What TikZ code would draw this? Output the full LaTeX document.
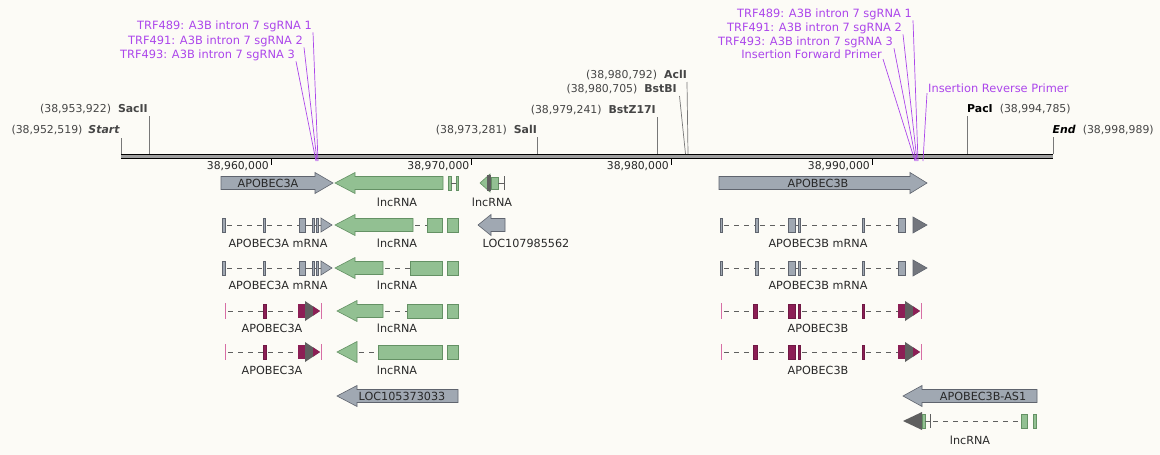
\documentclass[tikz,border=0pt]{standalone}
\usepackage{fontspec}
\setmainfont{DejaVu Sans}
\definecolor{bg}{RGB}{252,251,246}
\definecolor{txt}{RGB}{40,40,40}
\definecolor{numc}{RGB}{70,70,70}
\definecolor{purp}{RGB}{172,70,235}
\definecolor{gfill}{RGB}{160,168,178}
\definecolor{gdraw}{RGB}{95,100,110}
\definecolor{grfill}{RGB}{146,192,146}
\definecolor{grdraw}{RGB}{100,145,100}
\definecolor{mar}{RGB}{140,30,85}
\definecolor{pinkc}{RGB}{215,110,165}
\definecolor{dhead}{RGB}{95,95,95}
\definecolor{dtri}{RGB}{115,118,125}
\definecolor{intronc}{RGB}{95,95,95}
\definecolor{tickc}{RGB}{120,120,120}
\newcommand{\ArrR}[5]{\filldraw[#4] (#1,#3-6.5) -- (#5,#3-6.5) -- (#5,#3-10.5) -- (#2,#3) -- (#5,#3+10.5) -- (#5,#3+6.5) -- (#1,#3+6.5) -- cycle;}
\newcommand{\ArrL}[5]{\filldraw[#4] (#2,#3-6.5) -- (#5,#3-6.5) -- (#5,#3-10.5) -- (#1,#3) -- (#5,#3+10.5) -- (#5,#3+6.5) -- (#2,#3+6.5) -- cycle;}
\newcommand{\Exon}[4]{\filldraw[#4] (#1,#3-7) rectangle (#2,#3+7);}
\newcommand{\Intron}[3]{\draw[intron] (#1,#3) -- (#2,#3);}
\newcommand{\CdsEnd}[2]{%
  \fill[mar] (#1,#2-7) rectangle (#1+8,#2+7);
  \fill[dhead] (#1+7,#2-10) -- (#1+22,#2) -- (#1+7,#2+10) -- cycle;
  \fill[mar] (#1+15,#2-4.7) -- (#1+22,#2) -- (#1+15,#2+4.7) -- cycle;
  \draw[pinkc, line width=0.8pt] (#1+23,#2-8) -- (#1+23,#2+8);}
\newcommand{\AmRNA}[1]{%
  \Exon{222}{225}{#1}{gg}
  \Intron{225}{263}{#1}
  \Exon{263}{265}{#1}{gg}
  \Intron{265}{299}{#1}
  \draw[intronc, line width=0.8pt] (305,#1) -- (321,#1);
  \Exon{299}{305}{#1}{gg}
  \Exon{312}{314}{#1}{gg}
  \Exon{316.5}{318.5}{#1}{gg}
  \filldraw[gg] (321,#1-7) -- (332,#1) -- (321,#1+7) -- cycle;}
\newcommand{\ACds}[1]{%
  \draw[pinkc, line width=0.8pt] (225,#1-8) -- (225,#1+8);
  \Intron{226}{263}{#1}
  \Exon{263}{266}{#1}{mr}
  \Intron{266}{298}{#1}
  \CdsEnd{298}{#1}}
\newcommand{\BmRNA}[1]{%
  \Exon{720}{722}{#1}{gg}
  \Intron{722}{755}{#1}
  \Exon{755}{758}{#1}{gg}
  \Intron{758}{788}{#1}
  \draw[intronc, line width=0.8pt] (795,#1) -- (798,#1);
  \Exon{788}{795}{#1}{gg}
  \Exon{798}{800}{#1}{gg}
  \Intron{800}{862}{#1}
  \Exon{862}{864}{#1}{gg}
  \Intron{864}{898}{#1}
  \Exon{898}{905}{#1}{gg}
  \filldraw[fill=dtri, draw=gdraw, line width=0.6pt] (913,#1-8) -- (927,#1) -- (913,#1+8) -- cycle;}
\newcommand{\BCds}[1]{%
  \draw[pinkc, line width=0.8pt] (721,#1-8) -- (721,#1+8);
  \Intron{722}{753}{#1}
  \Exon{753}{757}{#1}{mr}
  \Intron{757}{788}{#1}
  \Exon{788}{795}{#1}{mr}
  \Exon{798}{800}{#1}{mr}
  \Intron{800}{862}{#1}
  \Exon{862}{864}{#1}{mr}
  \Intron{864}{898}{#1}
  \CdsEnd{898}{#1}}
\begin{document}
\begin{tikzpicture}[x=1pt,y=-1pt,
  lbl/.style={inner sep=0pt, text=txt, font=\fontsize{11.2}{13}\selectfont},
  rlbl/.style={inner sep=0pt, text=txt, font=\fontsize{10.8}{12}\selectfont},
  slbl/.style={inner sep=0pt, text=black, font=\fontsize{10.9}{12}\selectfont},
  plbl/.style={inner sep=0pt, text=purp, font=\fontsize{11.4}{13}\selectfont},
  pline/.style={draw=purp, line width=0.7pt},
  tickl/.style={draw=tickc, line width=0.7pt},
  rtick/.style={draw=black, line width=1pt},
  gg/.style={fill=gfill, draw=gdraw, line width=0.6pt},
  gr/.style={fill=grfill, draw=grdraw, line width=0.6pt},
  mr/.style={fill=mar, draw=mar!80!black, line width=0.4pt},
  intron/.style={draw=intronc, line width=0.9pt, dash pattern=on 5pt off 5pt, dash phase=-2pt},
]
\fill[bg] (0,0) rectangle (1160,455);
\useasboundingbox (0,0) rectangle (1160,455);

% ---------- main sequence line ----------
\fill[gray!75] (121,154.5) rectangle (1053,158.8);
\draw[line width=1.1pt] (121,154.5) -- (1053,154.5);
\draw[line width=1.1pt] (121,158.7) -- (1053,158.7);

% ---------- ruler ----------
\foreach \x/\t [count=\i] in {271/{38,960,000}, 471.5/{38,970,000}, 671/{38,980,000}, 872/{38,990,000}} {
  \draw[rtick] (\x,159) -- (\x,165);
  \node[rlbl, anchor=mid east] (ruler\i) at (\x-2,167) {\t};
}

% ---------- restriction sites ----------
\node[slbl, anchor=mid east] (start) at (120,131) {\color{numc}(38,952,519)\hspace{6pt}\textbf{\textit{Start}}};
\coordinate (startb) at (121,154);
\draw[tickl] (121,138) -- (startb);
\node[slbl, anchor=mid east] (sacii) at (148,110) {\color{numc}(38,953,922)\hspace{7pt}\textbf{SacII}};
\coordinate (saciib) at (149,154);
\draw[tickl] (149,116) -- (saciib);
\node[slbl, anchor=mid east] (sali) at (537,131) {\color{numc}(38,973,281)\hspace{7pt}\textbf{SalI}};
\coordinate (salib) at (537,154);
\draw[tickl] (537,137) -- (salib);
\node[slbl, anchor=mid east] (bstz) at (656,111) {\color{numc}(38,979,241)\hspace{7pt}\textbf{BstZ17I}};
\coordinate (bstzb) at (657,154);
\draw[tickl] (657,117) -- (bstzb);
\node[slbl, anchor=mid east] (bstbi) at (677,90) {\color{numc}(38,980,705)\hspace{7pt}\textbf{BstBI}};
\coordinate (bstbib) at (685.5,154);
\draw[tickl] (679.5,96) -- (bstbib);
\node[slbl, anchor=mid east] (acli) at (687,76) {\color{numc}(38,980,792)\hspace{7pt}\textbf{AclI}};
\coordinate (aclib) at (688,154);
\draw[tickl] (687,82) -- (aclib);
\node[slbl, anchor=mid west] (paci) at (967,110) {\textbf{PacI}\hspace{7pt}\color{numc}(38,994,785)};
\coordinate (pacib) at (967.5,154);
\draw[tickl] (967.5,116) -- (pacib);
\node[slbl, anchor=mid west] (endn) at (1052.5,131) {\textbf{\textit{End}}\hspace{7pt}\color{numc}(38,998,989)};
\coordinate (endb) at (1053,154);
\draw[tickl] (1053,137) -- (endb);

% ---------- purple annotations, left ----------
\node[plbl, anchor=mid east] (l1) at (312,27) {TRF489: A3B intron 7 sgRNA 1};
\node[plbl, anchor=mid east] (l2) at (303,42) {TRF491: A3B intron 7 sgRNA 2};
\node[plbl, anchor=mid east] (l3) at (295,56) {TRF493: A3B intron 7 sgRNA 3};
\coordinate (sl1) at (318,161);
\coordinate (sl2) at (317,161);
\coordinate (sl3) at (316,161);
\draw[pline] ([xshift=1pt]l1.south east) -- (sl1);
\draw[pline] ([xshift=1pt]l2.south east) -- (sl2);
\draw[pline] ([xshift=1pt]l3.south east) -- (sl3);

% ---------- purple annotations, right ----------
\node[plbl, anchor=mid east] (r1) at (912,15) {TRF489: A3B intron 7 sgRNA 1};
\node[plbl, anchor=mid east] (r2) at (902,29) {TRF491: A3B intron 7 sgRNA 2};
\node[plbl, anchor=mid east] (r3) at (893,43) {TRF493: A3B intron 7 sgRNA 3};
\node[plbl, anchor=mid east] (r4) at (882,56) {Insertion Forward Primer};
\node[plbl, anchor=mid west] (r5) at (928,90) {Insertion Reverse Primer};
\coordinate (sr1) at (918,161);
\coordinate (sr2) at (917,161);
\coordinate (sr3) at (916,161);
\coordinate (sr4) at (915,161);
\coordinate (sr5) at (923,161);
\draw[pline] ([xshift=1pt]r1.south east) -- (sr1);
\draw[pline] ([xshift=1pt]r2.south east) -- (sr2);
\draw[pline] ([xshift=1pt]r3.south east) -- (sr3);
\draw[pline] ([xshift=1pt]r4.south east) -- (sr4);
\draw[pline] ([xshift=-1pt]r5.south west) -- (sr5);

% ---------- left features ----------
% row 1
\ArrR{221}{333}{183}{gg}{315}
\node[lbl] (a3a) at (268,183.5) {APOBEC3A};
\ArrL{335}{443}{183}{gr}{355}
\filldraw[gr] (448,176) rectangle (451,190);
\draw[intronc, line width=0.8pt] (451,183) -- (456,183);
\filldraw[gr] (456,176) rectangle (458.5,190);
\node[lbl] (lnc1) at (397,202) {lncRNA};
\filldraw[gr] (480,183) -- (490,174) -- (490,192) -- cycle;
\fill[dhead] (487,175) rectangle (491,191);
\filldraw[gr] (491,177) rectangle (498,189);
\draw[intronc, line width=0.8pt] (498,183) -- (504,183);
\draw[intronc, line width=1pt] (504,176) -- (504,190);
\node[lbl] (lnc2) at (492,202) {lncRNA};
% row 2
\AmRNA{225}
\node[lbl] (a3am1) at (278,243) {APOBEC3A mRNA};
\ArrL{335}{413}{225}{gr}{355}
\Intron{413}{427}{225}
\Exon{427}{442}{225}{gr}
\Exon{447}{458}{225}{gr}
\node[lbl] (lnc3) at (397,243) {lncRNA};
\ArrL{478}{505}{225}{gg}{491}
\node[lbl] (loc1) at (526,243) {LOC107985562};
% row 3
\AmRNA{268}
\node[lbl] (a3am2) at (278,285) {APOBEC3A mRNA};
\ArrL{335}{383}{268}{gr}{355}
\Intron{383}{410}{268}
\Exon{410}{442}{268}{gr}
\Exon{447}{458}{268}{gr}
\node[lbl] (lnc4) at (397,285) {lncRNA};
% row 4
\ACds{311}
\node[lbl] (a3ac1) at (272,328) {APOBEC3A};
\ArrL{337}{383}{311}{gr}{357}
\Intron{383}{407}{311}
\Exon{407}{442}{311}{gr}
\Exon{447}{458}{311}{gr}
\node[lbl] (lnc5) at (397,328) {lncRNA};
% row 5
\ACds{352}
\node[lbl] (a3ac2) at (272,370) {APOBEC3A};
\filldraw[gr] (337,352) -- (357,341.5) -- (357,362.5) -- cycle;
\Intron{357}{378}{352}
\Exon{378}{442}{352}{gr}
\Exon{447}{458}{352}{gr}
\node[lbl] (lnc6) at (397,370) {lncRNA};
% row 6
\ArrL{337}{458}{396}{gg}{357}
\node[lbl] (loc2) at (402,396.5) {LOC105373033};

% ---------- right features ----------
\ArrR{719}{927}{183}{gg}{910}
\node[lbl] (a3b) at (818,183.5) {APOBEC3B};
\BmRNA{225}
\node[lbl] (a3bm1) at (818,243) {APOBEC3B mRNA};
\BmRNA{268}
\node[lbl] (a3bm2) at (818,285) {APOBEC3B mRNA};
\BCds{311}
\node[lbl] (a3bc1) at (818,328) {APOBEC3B};
\BCds{352}
\node[lbl] (a3bc2) at (818,370) {APOBEC3B};
\ArrL{903}{1037}{396}{gg}{922}
\node[lbl] (as1) at (983,396.5) {APOBEC3B-AS1};
\fill[dhead] (903,421) -- (922,412) -- (922,430) -- cycle;
\Exon{922}{925}{421}{gr}
\draw[intronc, line width=0.8pt] (925,421) -- (930,421);
\draw[intronc, line width=1pt] (930,414) -- (930,428);
\Intron{931}{1019}{421}
\Exon{1021}{1027}{421}{gr}
\Exon{1033}{1036}{421}{gr}
\node[lbl] (lnc7) at (970,440) {lncRNA};
\end{tikzpicture}
\end{document}
